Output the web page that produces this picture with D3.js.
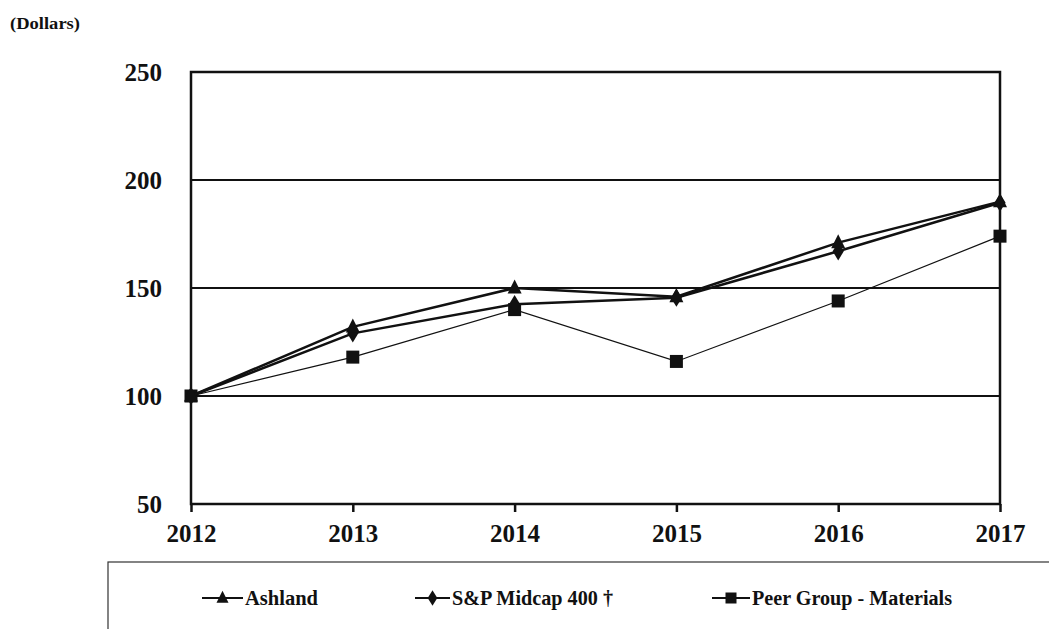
<!DOCTYPE html>
<html><head><meta charset="utf-8">
<script src="https://cdn.jsdelivr.net/npm/d3@7"></script>
<style>
body{margin:0;background:#fff}svg{display:block}
</style>
</head><body>
<script>
const years = ["2012","2013","2014","2015","2016","2017"];
const ashland = [100, 132, 150, 146, 171, 190];
const spMidcap = [100, 129, 142.5, 145.5, 167, 189.5];
const peerGroup = [100, 118, 140, 116, 144, 174];
const yTicks = [50, 100, 150, 200, 250];
const seriesNames = ["Ashland", "S&P Midcap 400 \u2020", "Peer Group - Materials"];

const W = 1049, H = 629;
const FF = '"Liberation Serif"';
const svg = d3.select("body").append("svg").attr("width", W).attr("height", H);
function styleText(sel, size) {
  sel.style("font-family", FF).style("font-weight", "bold").style("font-size", size + "px").style("fill", "#111");
}

const x = d3.scalePoint().domain(years).range([191, 1000]);
const y = d3.scaleLinear().domain([50, 250]).range([504, 72]);

// gridlines
svg.append("g").selectAll("line").data([100,150,200]).join("line")
  .attr("x1", 191).attr("x2", 1000).attr("y1", d => y(d)).attr("y2", d => y(d))
  .attr("stroke", "#111").attr("stroke-width", 2);

// frame
svg.append("rect").attr("x", 191).attr("y", 72).attr("width", 809).attr("height", 432)
  .attr("fill", "none").attr("stroke", "#111").attr("stroke-width", 2.5);

// x axis
const xa = svg.append("g").attr("transform", "translate(0,504)")
  .call(d3.axisBottom(x).tickSize(8).tickPadding(12));
xa.select(".domain").remove();
xa.selectAll("line").attr("stroke", "#111").attr("stroke-width", 2.5);
styleText(xa.selectAll("text"), 25);

// y axis
const ya = svg.append("g").attr("transform", "translate(191,0)")
  .call(d3.axisLeft(y).tickValues(yTicks).tickSize(0).tickPadding(29));
ya.select(".domain").remove();
styleText(ya.selectAll("text"), 25);

styleText(svg.append("text").attr("x", 10).attr("y", 29).text("(Dollars)")
  .attr("textLength", 70).attr("lengthAdjust", "spacingAndGlyphs"), 17);

const line = d3.line().x((d, i) => x(years[i])).y(d => y(d));
const series = [
  {vals: peerGroup, w: 1.2, m: "square"},
  {vals: spMidcap, w: 2.5, m: "diamond"},
  {vals: ashland, w: 2.5, m: "triangle"}
];
function marker(g, type, cx, cy, s) {
  if (type === "square") g.append("rect").attr("x", cx - s).attr("y", cy - s).attr("width", 2*s).attr("height", 2*s).attr("fill", "#111");
  else if (type === "diamond") g.append("path").attr("d", `M${cx},${cy-s*1.3}L${cx+s*0.8},${cy}L${cx},${cy+s*1.3}L${cx-s*0.8},${cy}Z`).attr("fill", "#111");
  else g.append("path").attr("d", `M${cx},${cy-s*1.2}L${cx+s},${cy+s*0.8}L${cx-s},${cy+s*0.8}Z`).attr("fill", "#111");
}
series.forEach(s => {
  svg.append("path").datum(s.vals).attr("d", line).attr("fill", "none")
    .attr("stroke", "#111").attr("stroke-width", s.w);
  const g = svg.append("g");
  s.vals.forEach((v, i) => marker(g, s.m, x(years[i]), y(v), s.m === "square" ? 6.5 : 7));
});

// legend
svg.append("rect").attr("x", 108).attr("y", 562).attr("width", 1000).attr("height", 100)
  .attr("fill", "none").attr("stroke", "#333").attr("stroke-width", 1.2);
const legItems = [
  {name: seriesNames[0], x0: 202, x1: 243, tw: 73, m: "triangle"},
  {name: seriesNames[1], x0: 415, x1: 450, tw: 161, m: "diamond"},
  {name: seriesNames[2], x0: 712, x1: 750, tw: 200, m: "square"}
];
legItems.forEach(it => {
  const ly = 598;
  svg.append("line").attr("x1", it.x0).attr("x2", it.x1).attr("y1", ly).attr("y2", ly)
    .attr("stroke", "#111").attr("stroke-width", 2);
  const g = svg.append("g");
  marker(g, it.m, (it.x0 + it.x1) / 2, ly, it.m === "square" ? 5.5 : 6);
  styleText(svg.append("text").attr("x", it.x1 + 2).attr("y", ly + 7).text(it.name)
    .attr("textLength", it.tw).attr("lengthAdjust", "spacingAndGlyphs"), 20);
});
</script>
</body></html>
